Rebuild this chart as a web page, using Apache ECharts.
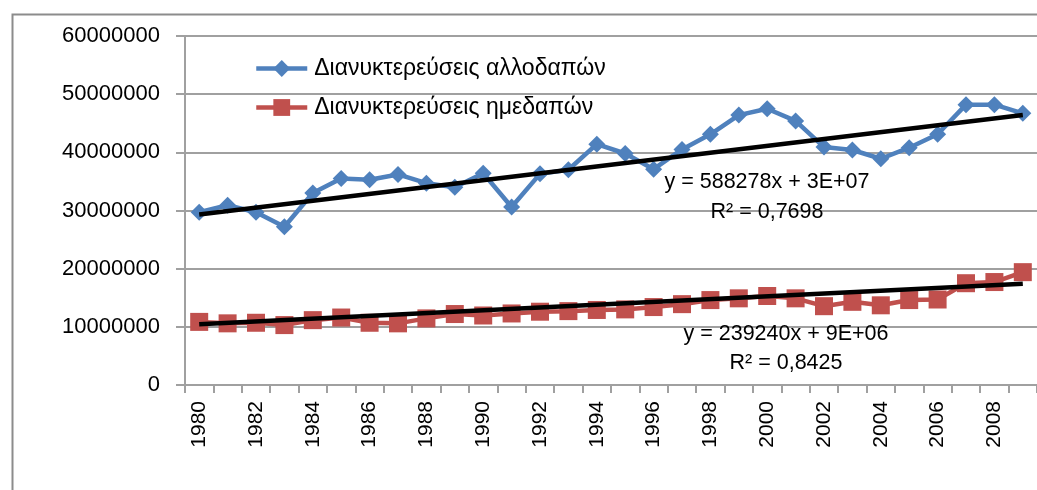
<!DOCTYPE html>
<html>
<head>
<meta charset="utf-8">
<script src="https://cdn.jsdelivr.net/npm/echarts@6/dist/echarts.min.js"></script>
<style>
html,body{margin:0;padding:0;background:#fff;}
#chart{width:1037px;height:490px;}
</style>
</head>
<body>
<div id="chart"></div>
<script>
// ---- data ----
const years = ['1980','1981','1982','1983','1984','1985','1986','1987','1988','1989',
               '1990','1991','1992','1993','1994','1995','1996','1997','1998','1999',
               '2000','2001','2002','2003','2004','2005','2006','2007','2008','2009'];
const foreignNights = [29.7e6, 30.9e6, 29.7e6, 27.2e6, 33.0e6, 35.5e6, 35.3e6, 36.2e6, 34.7e6, 34.0e6,
                       36.4e6, 30.6e6, 36.3e6, 37.0e6, 41.4e6, 39.8e6, 37.1e6, 40.5e6, 43.1e6, 46.4e6,
                       47.5e6, 45.4e6, 40.9e6, 40.4e6, 38.9e6, 40.8e6, 43.1e6, 48.2e6, 48.2e6, 46.7e6];
const domesticNights = [10.85e6, 10.6e6, 10.7e6, 10.3e6, 11.15e6, 11.6e6, 10.7e6, 10.6e6, 11.45e6, 12.2e6,
                        11.95e6, 12.3e6, 12.6e6, 12.7e6, 12.9e6, 13.0e6, 13.4e6, 13.9e6, 14.6e6, 14.9e6,
                        15.3e6, 14.9e6, 13.55e6, 14.3e6, 13.7e6, 14.6e6, 14.7e6, 17.5e6, 17.7e6, 19.4e6];
// trend line end values (first and last year)
const foreignTrendEnds = [29.3e6, 46.4e6];
const domesticTrendEnds = [10.45e6, 17.4e6];
const seriesNames = ['Διανυκτερεύσεις αλλοδαπών', 'Διανυκτερεύσεις ημεδαπών'];
const foreignTrendText = ['y = 588278x + 3E+07', 'R² = 0,7698'];
const domesticTrendText = ['y = 239240x + 9E+06', 'R² = 0,8425'];
const yTicks = {min: 0, max: 60000000, interval: 10000000};

// ---- chart ----
const FONT = '"Liberation Sans", Arial, sans-serif';
const GRAY = '#a0a0a0';
const TXT = '#000';
const chart = echarts.init(document.getElementById('chart'), null, {renderer: 'canvas'});

const firstYear = years[0], lastYear = years[years.length - 1];

chart.setOption({
  animation: false,
  backgroundColor: '#ffffff',
  textStyle: {fontFamily: FONT},
  grid: {left: 185, top: 36, right: -2, bottom: 105, containLabel: false},
  legend: {
    data: seriesNames,
    orient: 'vertical',
    left: 249,
    top: 52,
    itemWidth: 51,
    itemHeight: 21,
    itemGap: 16,
    lineStyle: {width: 4.5},
    textStyle: {fontFamily: FONT, fontSize: 23, color: TXT, lineHeight: 21, padding: [0, 0, 0, 2]}
  },
  xAxis: {
    type: 'category',
    data: years,
    boundaryGap: true,
    axisLine: {show: true, lineStyle: {color: GRAY, width: 2}},
    axisTick: {show: true, interval: 0, length: 8, lineStyle: {color: GRAY, width: 2}},
    axisLabel: {interval: 1, rotate: 90, margin: 16, fontFamily: FONT, fontSize: 21, color: TXT},
    splitLine: {show: false}
  },
  yAxis: {
    type: 'value',
    min: yTicks.min,
    max: yTicks.max,
    interval: yTicks.interval,
    axisLine: {show: true, lineStyle: {color: GRAY, width: 2}},
    axisTick: {show: true, length: 9, lineStyle: {color: GRAY, width: 2}},
    axisLabel: {margin: 25, fontFamily: FONT, fontSize: 22, color: TXT, formatter: v => String(v)},
    splitLine: {show: true, lineStyle: {color: GRAY, width: 2}}
  },
  series: [
    {
      name: seriesNames[0],
      type: 'line',
      data: foreignNights,
      symbol: 'diamond',
      symbolSize: 17,
      lineStyle: {color: '#4F81BD', width: 4.5},
      itemStyle: {color: '#4F81BD'},
      z: 2
    },
    {
      name: seriesNames[1],
      type: 'line',
      data: domesticNights,
      symbol: 'rect',
      symbolSize: 18,
      lineStyle: {color: '#C0504D', width: 4.5},
      itemStyle: {color: '#C0504D'},
      z: 2
    },
    {
      name: 'trend1',
      type: 'line',
      data: [[firstYear, foreignTrendEnds[0]], [lastYear, foreignTrendEnds[1]]],
      symbol: 'none',
      lineStyle: {color: '#000', width: 4.5},
      silent: true,
      z: 5
    },
    {
      name: 'trend2',
      type: 'line',
      data: [[firstYear, domesticTrendEnds[0]], [lastYear, domesticTrendEnds[1]]],
      symbol: 'none',
      lineStyle: {color: '#000', width: 4.5},
      silent: true,
      z: 5
    }
  ],
  graphic: [
    {type: 'rect', left: 10, top: 12, shape: {width: 1200, height: 700}, style: {fill: 'none', stroke: '#8c8c8c', lineWidth: 2}, z: 0, silent: true},
    {type: 'text', x: 767, y: 182, style: {text: foreignTrendText[0], font: '21.5px ' + FONT, fill: TXT, textAlign: 'center', textVerticalAlign: 'middle'}, z: 10},
    {type: 'text', x: 767, y: 212, style: {text: foreignTrendText[1], font: '21.5px ' + FONT, fill: TXT, textAlign: 'center', textVerticalAlign: 'middle'}, z: 10},
    {type: 'text', x: 786, y: 334, style: {text: domesticTrendText[0], font: '21.5px ' + FONT, fill: TXT, textAlign: 'center', textVerticalAlign: 'middle'}, z: 10},
    {type: 'text', x: 786, y: 363, style: {text: domesticTrendText[1], font: '21.5px ' + FONT, fill: TXT, textAlign: 'center', textVerticalAlign: 'middle'}, z: 10}
  ]
});
</script>
</body>
</html>
